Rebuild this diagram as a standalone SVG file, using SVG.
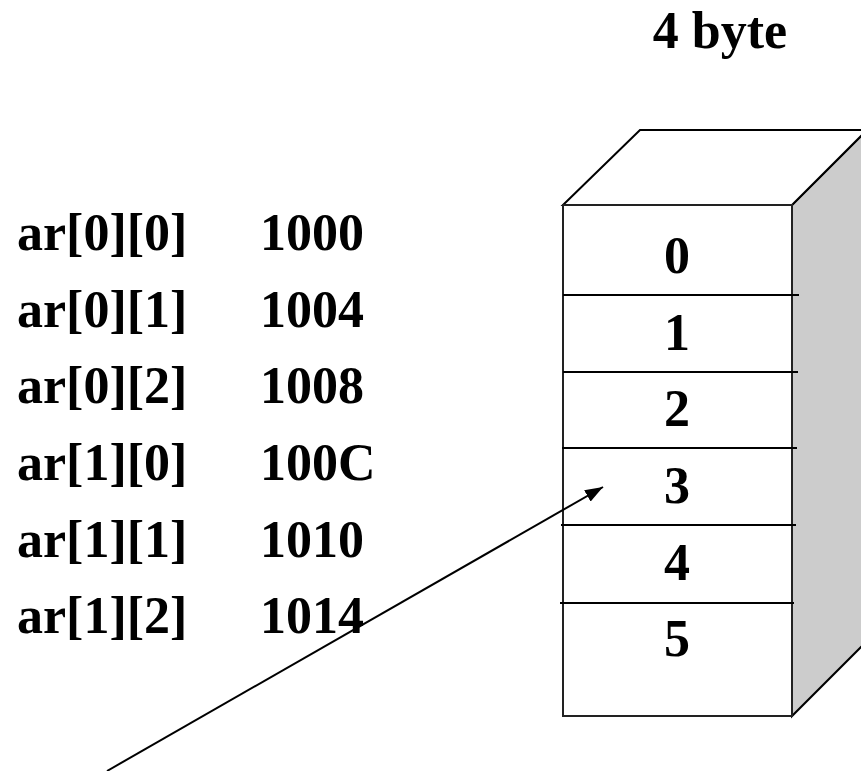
<svg xmlns="http://www.w3.org/2000/svg" width="861" height="771" viewBox="0 0 861 771">
<style>
text{font-family:"Liberation Serif","Times New Roman",serif;font-weight:bold;font-size:52px;fill:#000}
.c{text-anchor:middle}
.e{fill:none;stroke:#000;stroke-width:2}
</style>
<defs>
<marker id="ah" viewBox="0 0 18 13" refX="18" refY="6.5" markerWidth="18" markerHeight="13" markerUnits="userSpaceOnUse" orient="auto">
<path d="M0,0 L18,6.5 L0,13 z" fill="#000"/>
</marker>
</defs>
<rect width="861" height="771" fill="#fff"/>
<text id="title" x="720" y="48" class="c">4 byte</text>
<g id="labels">
<text x="17" y="250">ar[0][0]</text><text x="260" y="250">1000</text>
<text x="17" y="327">ar[0][1]</text><text x="260" y="327">1004</text>
<text x="17" y="403">ar[0][2]</text><text x="260" y="403">1008</text>
<text x="17" y="480">ar[1][0]</text><text x="260" y="480">100C</text>
<text x="17" y="557">ar[1][1]</text><text x="260" y="557">1010</text>
<text x="17" y="633">ar[1][2]</text><text x="260" y="633">1014</text>
</g>
<g id="box">
<polygon points="792,205 867,130 867,641 792,716" fill="#cccccc" stroke="#000" stroke-width="2"/>
<polygon points="563,205 640,130 867,130 792,205" fill="#fff" stroke="#000" stroke-width="2"/>
<rect x="563" y="205" width="229" height="511" fill="#fff" stroke="#222" stroke-width="2"/>
<line class="e" x1="563" y1="295" x2="799" y2="295"/>
<line class="e" x1="563" y1="372" x2="798" y2="372"/>
<line class="e" x1="562" y1="448" x2="797" y2="448"/>
<line class="e" x1="561" y1="525" x2="796" y2="525"/>
<line class="e" x1="560" y1="603" x2="794" y2="603"/>
<text x="677" y="273" class="c">0</text>
<text x="677" y="350" class="c">1</text>
<text x="677" y="426" class="c">2</text>
<text x="677" y="503" class="c">3</text>
<text x="677" y="580" class="c">4</text>
<text x="677" y="656" class="c">5</text>
</g>
<g id="connectors">
<line x1="107" y1="771" x2="603" y2="487" stroke="#000" stroke-width="2" marker-end="url(#ah)"/>
</g>
</svg>
